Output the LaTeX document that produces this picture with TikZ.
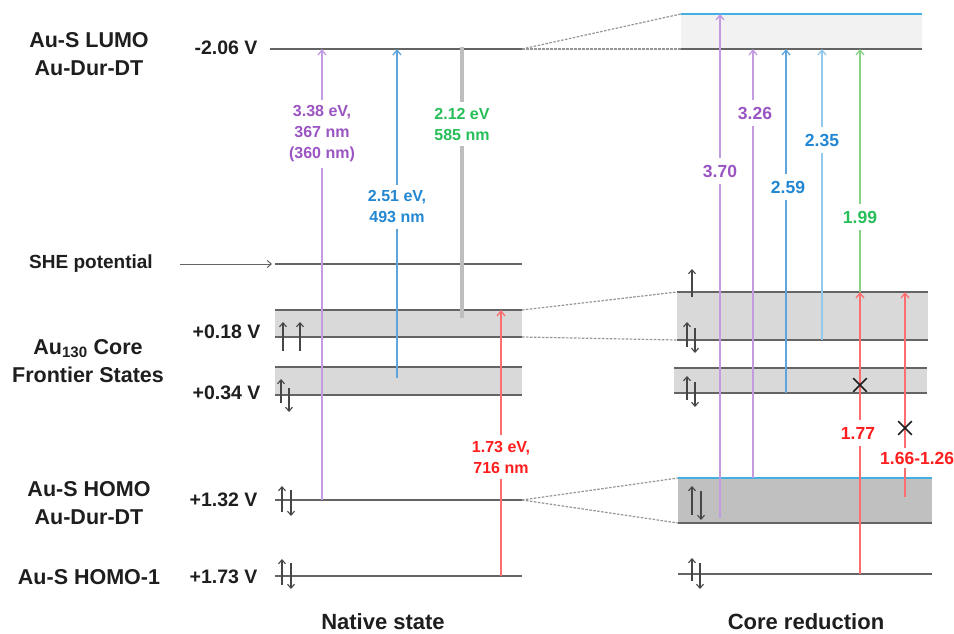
\documentclass[tikz,border=0pt]{standalone}
\usepackage{fontspec}
\setmainfont{Liberation Sans}
\usetikzlibrary{arrows.meta,shapes.misc}
\definecolor{ink}{RGB}{30,30,30}
\definecolor{levelgray}{RGB}{100,100,100}
\definecolor{linkgray}{RGB}{150,150,150}
\definecolor{spingray}{RGB}{70,70,70}
\definecolor{bandfill}{RGB}{217,217,217}
\definecolor{banddark}{RGB}{192,192,192}
\definecolor{lumofill}{RGB}{242,242,242}
\definecolor{lumoblue}{RGB}{70,175,225}
\definecolor{purtext}{RGB}{155,85,195}
\definecolor{purline}{RGB}{195,155,225}
\definecolor{bluetext}{RGB}{35,135,210}
\definecolor{blueline}{RGB}{95,165,220}
\definecolor{bluelight}{RGB}{145,200,235}
\definecolor{greentext}{RGB}{40,190,90}
\definecolor{greenline}{RGB}{135,210,135}
\definecolor{redtext}{RGB}{255,30,30}
\definecolor{redline}{RGB}{255,110,110}
\definecolor{thickgray}{RGB}{190,190,190}
\tikzset{
  title/.style={font=\fontsize{21.5}{28}\selectfont\bfseries, text=ink, align=center},
  volt/.style={font=\fontsize{19.5}{22}\selectfont\bfseries, text=ink, anchor=east},
  caption/.style={font=\fontsize{22}{26}\selectfont\bfseries, text=ink},
  evLabel/.style={font=\fontsize{16}{21}\selectfont\bfseries, align=center,
    fill=white, inner xsep=1pt, inner ysep=6pt},
  numLabel/.style={font=\fontsize{17.5}{21}\selectfont\bfseries,
    fill=white, inner xsep=1pt, inner ysep=7pt},
  level/.style={draw=levelgray, line width=1.8pt},
  link/.style={draw=linkgray, line width=1.2pt, dash pattern=on 2.5pt off 1.5pt},
  spin/.style={-{Straight Barb[length=4pt,width=7pt]}, draw=spingray, line width=1.1pt},
  cross/.style={cross out, draw=ink, line width=1.6pt, minimum size=12pt, inner sep=0pt},
  purArrow/.style={-{Straight Barb[length=5pt,width=8pt]}, draw=purline, line width=1.3pt},
  blueArrow/.style={-{Straight Barb[length=5pt,width=8pt]}, draw=blueline, line width=1.3pt},
  lightArrow/.style={-{Straight Barb[length=5pt,width=8pt]}, draw=bluelight, line width=1.3pt},
  greenArrow/.style={-{Straight Barb[length=5pt,width=8pt]}, draw=greenline, line width=1.3pt},
  redArrow/.style={-{Straight Barb[length=5pt,width=8pt]}, draw=redline, line width=1.3pt},
  grayBar/.style={draw=thickgray, line width=4.5pt}
}
\begin{document}
\begin{tikzpicture}[x=1pt,y=-1pt]

% Background
\useasboundingbox (0,0) rectangle (954,634);
\fill[white] (0,0) rectangle (954,634);

% Level names
\node[title] (tLumo) at (89,54) {Au-S LUMO\\Au-Dur-DT};
\node[title, font=\fontsize{19}{22}\selectfont\bfseries] (tShe) at (91,264) {SHE potential};
\node[title] (tCore) at (88,361) {Au\textsubscript{130} Core\\Frontier States};
\node[title] (tHomo) at (89,503) {Au-S HOMO\\Au-Dur-DT};
\node[title] (tHomo1) at (89,577) {Au-S HOMO-1};

\node[volt] (vLumo) at (261,48) {-2.06 V};
\node[volt] (vCore1) at (264,332) {+0.18 V};
\node[volt] (vCore2) at (264,393) {+0.34 V};
\node[volt] (vHomo) at (261,500) {+1.32 V};
\node[volt] (vHomo1) at (261,577) {+1.73 V};

% Left: native state
\fill[bandfill] (275,310) rectangle (522,337);
\fill[bandfill] (275,367) rectangle (522,395);

\coordinate (lumoL) at (270,49);    \coordinate (lumoR) at (522,49);
\coordinate (sheL) at (275,264);    \coordinate (sheR) at (522,264);
\coordinate (c1tL) at (275,310);    \coordinate (c1tR) at (522,310);
\coordinate (c1bL) at (275,337);    \coordinate (c1bR) at (522,337);
\coordinate (c2tL) at (275,367);    \coordinate (c2tR) at (522,367);
\coordinate (c2bL) at (275,395);    \coordinate (c2bR) at (522,395);
\coordinate (homoL) at (275,500);   \coordinate (homoR) at (522,500);
\coordinate (homo1L) at (275,576);  \coordinate (homo1R) at (522,576);

\draw[level] (lumoL) -- (lumoR);
\draw[level, line width=1.2pt] (sheL) -- (sheR);
\draw[level] (c1tL) -- (c1tR);
\draw[level] (c1bL) -- (c1bR);
\draw[level] (c2tL) -- (c2tR);
\draw[level] (c2bL) -- (c2bR);
\draw[level] (homoL) -- (homoR);
\draw[level] (homo1L) -- (homo1R);

\coordinate (sheStart) at (180,264);
\draw[-{Straight Barb[length=4pt,width=7pt]}, draw=levelgray, line width=1pt]
  (sheStart) -- ([xshift=-3pt]sheL);

% Right: core reduction
\fill[lumofill] (681,14) rectangle (922,49);
\fill[bandfill] (677,292) rectangle (928,340);
\fill[bandfill] (674,368) rectangle (927,393);
\fill[banddark] (678,478) rectangle (932,523);

\coordinate (rLumoTL) at (681,14);  \coordinate (rLumoTR) at (922,14);
\coordinate (rLumoBL) at (681,49);  \coordinate (rLumoBR) at (922,49);
\coordinate (rc1tL) at (677,292);   \coordinate (rc1tR) at (928,292);
\coordinate (rc1bL) at (677,340);   \coordinate (rc1bR) at (928,340);
\coordinate (rc2tL) at (674,368);   \coordinate (rc2tR) at (927,368);
\coordinate (rc2bL) at (674,393);   \coordinate (rc2bR) at (927,393);
\coordinate (rHomoTL) at (678,478); \coordinate (rHomoTR) at (932,478);
\coordinate (rHomoBL) at (678,523); \coordinate (rHomoBR) at (932,523);
\coordinate (rHomo1L) at (678,574); \coordinate (rHomo1R) at (932,574);

\draw[draw=lumoblue, line width=2.4pt] (rLumoTL) -- (rLumoTR);
\draw[level] (rLumoBL) -- (rLumoBR);
\draw[level] (rc1tL) -- (rc1tR);
\draw[level] (rc1bL) -- (rc1bR);
\draw[level] (rc2tL) -- (rc2tR);
\draw[level] (rc2bL) -- (rc2bR);
\draw[draw=lumoblue, line width=1.8pt] (rHomoTL) -- (rHomoTR);
\draw[level] (rHomoBL) -- (rHomoBR);
\draw[level] (rHomo1L) -- (rHomo1R);

% Dashed links between the two columns
\draw[link] (lumoR) -- (rLumoTL);
\draw[link] (lumoR) -- (rLumoBL);
\draw[link] (c1tR) -- (rc1tL);
\draw[link] (c1bR) -- (rc1bL);
\draw[link] (homoR) -- (rHomoTL);
\draw[link] (homoR) -- (rHomoBL);

% Left transitions
\coordinate (s338) at (322,500);
\coordinate (s251) at (397,378);
\coordinate (s212) at (462,318);
\coordinate (s173) at (501,576);
\draw[purArrow] (s338) -- (s338 |- lumoL);
\draw[blueArrow] (s251) -- (s251 |- lumoL);
\draw[grayBar] (s212) -- ([yshift=2pt]s212 |- lumoL);
\draw[redArrow] (s173) -- (s173 |- c1tL);

\node[evLabel, text=purtext] (n338) at (322,134) {3.38 eV,\\367 nm\\(360 nm)};
\node[evLabel, text=bluetext] (n251) at (397,207) {2.51 eV,\\493 nm};
\node[evLabel, text=greentext] (n212) at (462,124) {2.12 eV\\585 nm};
\node[evLabel, text=redtext] (n173) at (501,457) {1.73 eV,\\716 nm};

% Right transitions
\coordinate (s370) at (720,518);
\coordinate (s326) at (753,478);
\coordinate (s259) at (786,393);
\coordinate (s235) at (822,340);
\coordinate (s199) at (860,292);
\coordinate (s177) at (860,574);
\coordinate (s166) at (905,497);
\draw[purArrow] (s370) -- (s370 |- rLumoTL);
\draw[purArrow] (s326) -- (s326 |- rLumoBL);
\draw[blueArrow] (s259) -- (s259 |- rLumoBL);
\draw[lightArrow] (s235) -- (s235 |- rLumoBL);
\draw[greenArrow] (s199) -- (s199 |- rLumoBL);
\draw[redArrow] (s177) -- (s177 |- rc1tL);
\draw[redArrow] (s166) -- (s166 |- rc1tL);

\node[numLabel, text=purtext] (n370) at (720,171) {3.70};
\node[numLabel, text=purtext] (n326) at (755,113) {3.26};
\node[numLabel, text=bluetext] (n259) at (788,187) {2.59};
\node[numLabel, text=bluetext] (n235) at (822,140) {2.35};
\node[numLabel, text=greentext] (n199) at (860,217) {1.99};
\node[numLabel, text=redtext] (n177) at (858,433) {1.77};
\node[numLabel, text=redtext, anchor=west, inner ysep=4pt] (n166) at (879,458) {1.66-1.26};

\node[cross] (x177) at (860,385) {};
\node[cross, fill=white] (x166) at (905,428) {};

% Electron spins, left
\draw[spin] (283,351) -- (283,322);
\draw[spin] (300,351) -- (300,322);
\draw[spin] (281,403) -- (281,379);
\draw[spin] (289,388) -- (289,412);
\draw[spin] (282,512) -- (282,486);
\draw[spin] (291,490) -- (291,516);
\draw[spin] (282,585) -- (282,559);
\draw[spin] (291,563) -- (291,589);

% Electron spins, right
\draw[spin] (692,297) -- (692,269);
\draw[spin] (687,347) -- (687,322);
\draw[spin] (695,328) -- (695,353);
\draw[spin] (687,400) -- (687,376);
\draw[spin] (695,382) -- (695,407);
\draw[spin] (692,515) -- (692,486);
\draw[spin] (701,491) -- (701,520);
\draw[spin] (692,581) -- (692,558);
\draw[spin] (700,563) -- (700,589);

% Column captions
\node[caption] (capNative) at (383,622) {Native state};
\node[caption] (capCore) at (806,622) {Core reduction};

\end{tikzpicture}
\end{document}
